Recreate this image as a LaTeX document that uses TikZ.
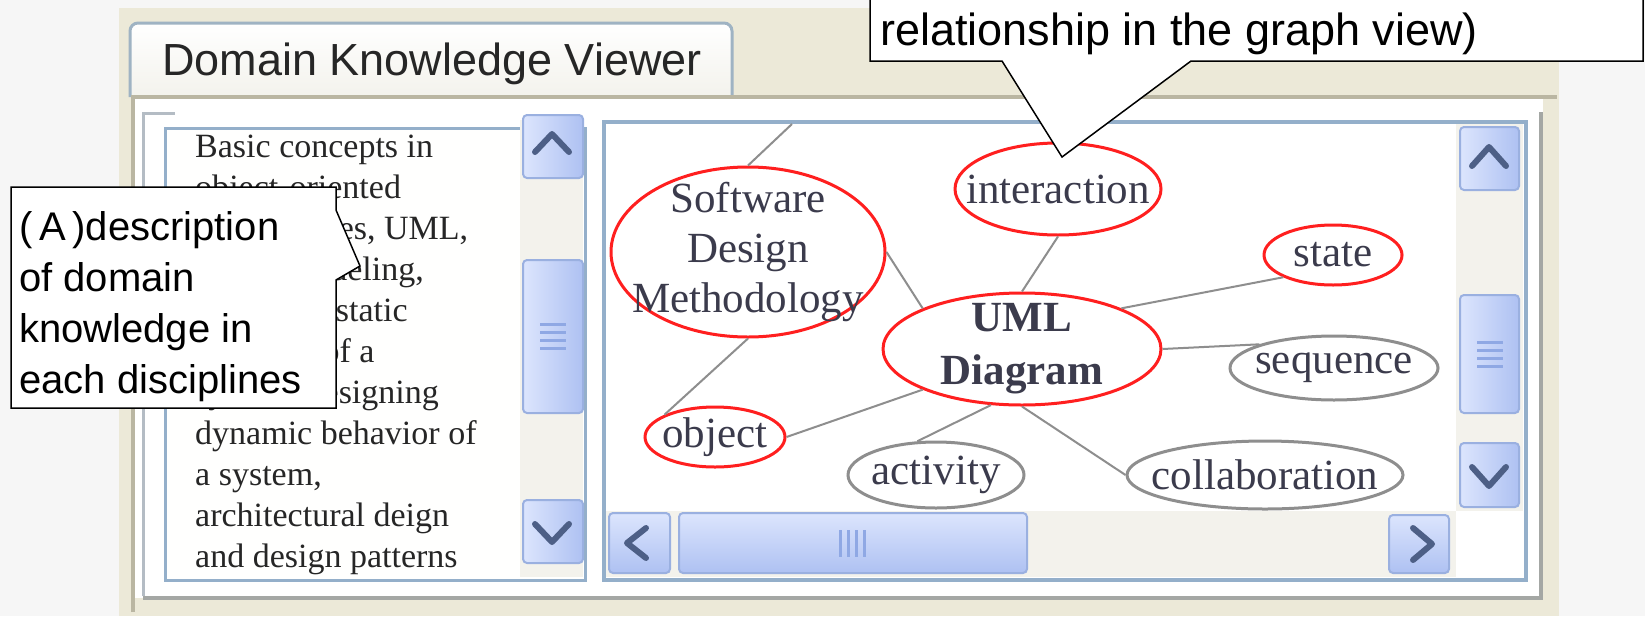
\documentclass[tikz,border=0pt]{standalone}
\usepackage{fontspec}
\setmainfont{Liberation Serif}
\newfontfamily\uisans{Liberation Sans}
\usetikzlibrary{shapes.geometric}

\definecolor{pagebg}{HTML}{F6F6F6}
\definecolor{xpbeige}{HTML}{ECE9D8}
\definecolor{beigeline}{HTML}{BAB6A2}
\definecolor{framegray}{HTML}{A4A7A4}
\definecolor{innerline}{HTML}{B4BCC4}
\definecolor{boxblue}{HTML}{94AFCA}
\definecolor{tabline}{HTML}{9FB3C3}
\definecolor{track}{HTML}{F3F2EC}
\definecolor{btnlight}{HTML}{DCE5FD}
\definecolor{btndark}{HTML}{AEC1F2}
\definecolor{btnedge}{HTML}{9AB0E0}
\definecolor{chevron}{HTML}{4D5F86}
\definecolor{gripline}{HTML}{8FA8E4}
\definecolor{hotred}{HTML}{FF1F1F}
\definecolor{edgegray}{HTML}{8E8E8E}
\definecolor{nodetext}{HTML}{3B3B4C}

\tikzset{
  % negative inner sep: the ellipse size comes from minimum width/height only
  hotnode/.style={ellipse, draw=hotred, line width=3, fill=white, inner sep=-80,
    text=nodetext, font=\fontsize{43}{50}\selectfont, align=center},
  coldnode/.style={hotnode, draw=edgegray},
  link/.style={draw=edgegray, line width=2},
  vbtn/.style={draw=btnedge, line width=2, rounded corners=4, left color=btnlight, right color=btndark},
  hbtn/.style={draw=btnedge, line width=2, rounded corners=4, top color=btnlight, bottom color=btndark},
  chev/.style={draw=chevron, line width=6, line cap=round, line join=round},
  grip/.style={draw=gripline, line width=3},
  callout/.style={draw=black, line width=1.5, fill=white},
  calltext/.style={anchor=base west, inner sep=0, font=\uisans\fontsize{40}{51}\selectfont},
  descline/.style={anchor=base west, inner sep=0, text=black!85, font=\fontsize{34}{41}\selectfont},
}

\begin{document}
\begin{tikzpicture}[x=1pt,y=-1pt]
\useasboundingbox (0,0) rectangle (1645,616);
\clip (0,0) rectangle (1645,616);
\fill[pagebg] (0,0) rectangle (1645,616);
\fill[xpbeige] (119,8) rectangle (1559,616);

% tab and panel
\draw[tabline, line width=3, rounded corners=8, top color=white, bottom color=track]
  (130,97) |- (732,23) -- (732,97);
\node[anchor=base west, inner sep=0, text=black!85, font=\uisans\fontsize{45}{54}\selectfont]
  (tabtitle) at (162,75) {Domain Knowledge Viewer};
\fill[white!98!track] (132,99) rectangle (1543,598);
\draw[beigeline, line width=4] (133,612) -- (133,97) -- (1557,97);
\draw[innerline, line width=3] (143,596) -- (143,113) -- (175,113);
\draw[framegray, line width=4] (143,598) -- (1541,598) -- (1541,112);

% description box
\draw[boxblue, line width=3, fill=white!97!track] (165,128) rectangle (585,580);
\foreach \txt [count=\i] in {Basic concepts in, object-oriented, {technologies, UML,},
  {object modeling,}, designing static, structure of a, {system, designing},
  dynamic behavior of, {a system,}, architectural deign, and design patterns}
  \node[descline] (desc\i) at (195,157+41*\i-41) {\txt};
\fill[track] (520,120) rectangle (583,577);
\draw[vbtn] (523,115) rectangle (583,178);
\draw[vbtn] (523,260) rectangle (583,413);
\draw[vbtn] (523,500) rectangle (583,563);
\draw[chev] (535,152) -- (552,134) -- (569,152);
\draw[chev] (535,524) -- (552,542) -- (569,524);
\foreach \dy in {-12,-4,4,12}
  \draw[grip] (540,336+\dy) -- (566,336+\dy);

% graph view
\draw[boxblue, line width=4, fill=white] (604,122) rectangle (1526,580);
\fill[track] (1456,124) rectangle (1523,511);
\fill[track] (606,511) rectangle (1456,577);
\draw[vbtn] (1460,127) rectangle (1519,190);
\draw[vbtn] (1460,295) rectangle (1519,413);
\draw[vbtn] (1460,443) rectangle (1519,507);
\draw[chev] (1472,166) -- (1489,147) -- (1506,166);
\draw[chev] (1472,467) -- (1489,486) -- (1506,467);
\foreach \dy in {-12,-4,4,12}
  \draw[grip] (1477,354+\dy) -- (1503,354+\dy);
\draw[hbtn] (609,513) rectangle (670,573);
\draw[hbtn] (679,513) rectangle (1027,573);
\draw[hbtn] (1389,515) rectangle (1449,573);
\draw[chev] (646,528) -- (627,543) -- (646,558);
\draw[chev] (1413,528) -- (1432,544) -- (1413,560);
\foreach \dx in {-13,-5,3,11}
  \draw[grip] (853+\dx,530) -- (853+\dx,557);

\node[hotnode, minimum width=274, minimum height=170] (sdm) at (748,252) {Software\\Design\\Methodology};
\node[hotnode, minimum width=206, minimum height=92] (interaction) at (1058,189) {interaction};
\node[hotnode, minimum width=278, minimum height=112, font=\bfseries\fontsize{43}{53}\selectfont] (uml) at (1022,349) {UML\\Diagram};
\node[hotnode, minimum width=138, minimum height=60] (state) at (1333,255) {state};
\node[coldnode, minimum width=208, minimum height=64] (sequence) at (1334,368) {sequence};
\node[hotnode, minimum width=140, minimum height=60] (object) at (715,437) {object};
\node[coldnode, minimum width=176, minimum height=66] (activity) at (936,475) {activity};
\node[coldnode, minimum width=276, minimum height=68] (collab) at (1265,475) {collaboration};
\coordinate (offview) at (792,124);

\draw[link] (sdm.north) -- (offview);
\draw[link] (sdm.south) -- (object.north west);
\draw[link] (sdm.east) -- (uml.north west);
\draw[link] (interaction.south) -- (uml.north);
\draw[link] (object.east) -- (uml.south west);
\draw[link] (uml.-119) -- (activity.119);
\draw[link] (uml.south) -- (collab.west);
\draw[link] (uml.north east) -- (state.south west);
\draw[link] (uml.east) -- (sequence.north west);

% callouts
\draw[callout] (11,187) -- (336,187) -- (336,210) -- (360,266) -- (336,280) -- (336,408) -- (11,408) -- cycle;
\foreach \txt [count=\i] in {(\,A\,)description, of domain, knowledge in, each disciplines}
  \node[calltext] (noteA\i) at (19,240+51*\i-51) {\txt};
\draw[callout] (870,-20) -- (1643,-20) -- (1643,61) -- (1191,61) -- (1062,157) -- (1002,61) -- (870,61) -- cycle;
\node[calltext, font=\uisans\fontsize{45}{54}\selectfont] (noteB) at (880,45) {relationship in the graph view)};
\end{tikzpicture}
\end{document}
